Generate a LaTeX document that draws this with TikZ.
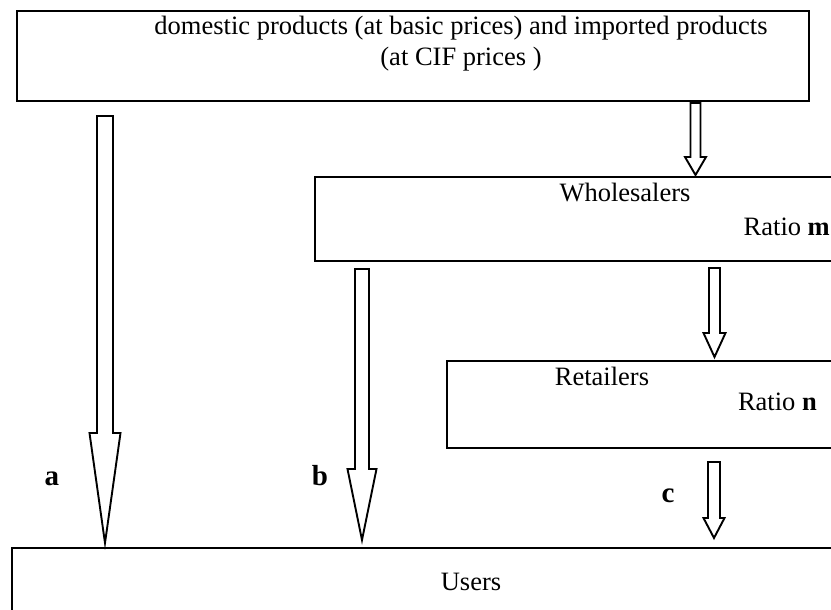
\documentclass[tikz,border=0pt]{standalone}
\usepackage{fontspec}
\setmainfont{Liberation Serif}
\usetikzlibrary{calc}
\tikzset{
  box/.style={draw, line width=2.4pt, rectangle, anchor=north west, inner sep=0pt},
  arrowline/.style={draw, line width=1.9pt, fill=white, line join=miter},
  txt/.style={inner sep=0pt, anchor=base, font=\fontsize{26.5}{31}\selectfont},
  lbl/.style={inner sep=0pt, anchor=base, font=\fontsize{29}{34}\selectfont\bfseries}
}
\newcommand\blockarrow[5]{%
  \path[arrowline] let \p1=(#1), \p2=(#2) in
    (\x1-#4pt,\y1) -- (\x1+#4pt,\y1) -- (\x1+#4pt,\y2+#3pt) -- (\x1+#5pt,\y2+#3pt)
    -- (\x2,\y2) -- (\x1-#5pt,\y2+#3pt) -- (\x1-#4pt,\y2+#3pt) -- cycle;}
\begin{document}
\begin{tikzpicture}[x=1pt,y=-1pt]
\useasboundingbox (0,0) rectangle (831,610);
\clip (0,0) rectangle (831,610);
% boxes
\node[box, minimum width=792pt, minimum height=90pt] (src) at (16,10) {};
\node[box, minimum width=560pt, minimum height=84pt] (whole) at (314,176) {};
\node[box, minimum width=430pt, minimum height=87pt] (retail) at (446,360) {};
\node[box, minimum width=860pt, minimum height=100pt] (users) at (11,547) {};
% texts
\node[txt] (t1) at (461,35) {domestic products (at basic prices) and imported products};
\node[txt] (t2) at (461,66) {(at CIF prices )};
\node[txt] (tw) at (625,201) {Wholesalers};
\node[txt, anchor=base east] (tm) at (830,235) {Ratio \textbf{m}};
\node[txt] (tr) at (602,385) {Retailers};
\node[txt, anchor=base east] (tn) at (817,410) {Ratio \textbf{n}};
\node[txt] (tu) at (471,590) {Users};
\node[lbl] (la) at (52,485) {a};
\node[lbl] (lb) at (320,485) {b};
\node[lbl] (lc) at (668,502) {c};
% arrow end points
\coordinate (aS) at (105,116);   \coordinate (aT) at (105,543);
\coordinate (wS) at (695.5,103); \coordinate (wT) at (695.5,175);
\coordinate (bS) at (362,269);   \coordinate (bT) at (362,540);
\coordinate (rS) at (714.5,268); \coordinate (rT) at (714.5,357);
\coordinate (cS) at (714,462);   \coordinate (cT) at (714,538);
% arrows
\blockarrow{aS}{aT}{110}{8}{15.5}
\blockarrow{wS}{wT}{18}{5}{10.5}
\blockarrow{bS}{bT}{71}{7}{14.5}
\blockarrow{rS}{rT}{24}{5.5}{11}
\blockarrow{cS}{cT}{20}{6}{10.5}
\end{tikzpicture}
\end{document}
